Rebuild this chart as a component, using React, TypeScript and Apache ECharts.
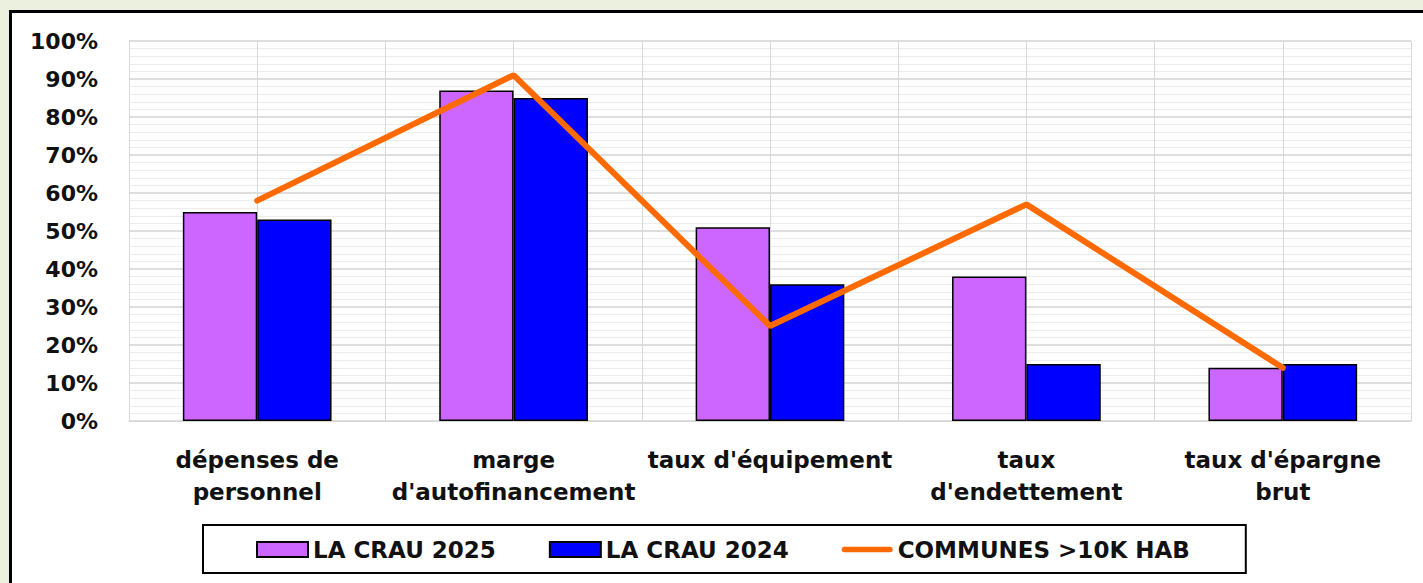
import React, { useEffect, useRef } from "react";
import * as echarts from "echarts";

const categories = [
  "dépenses de\npersonnel",
  "marge\nd'autofinancement",
  "taux d'équipement",
  "taux\nd'endettement",
  "taux d'épargne\nbrut",
];
const seriesNames = ["LA CRAU 2025", "LA CRAU 2024", "COMMUNES >10K HAB"];
const crau2025 = [55, 87, 51, 38, 14];
const crau2024 = [53, 85, 36, 15, 15];
const communes = [58, 91, 25, 57, 14];

const FONT = "'DejaVu Sans', sans-serif";

export default function App() {
  const ref = useRef<HTMLDivElement>(null);
  useEffect(() => {
    if (!ref.current) return;
    const chart = echarts.init(ref.current, null, { renderer: "svg" });
    const halfCats = categories.flatMap((c, i) => [`a${i}`, `b${i}`]);
    chart.setOption({
      animation: false,
      textStyle: { fontFamily: FONT },
      grid: { left: 129, right: 12, top: 41, bottom: 162, containLabel: false },
      xAxis: [
        {
          type: "category",
          data: categories,
          axisLine: { show: true, lineStyle: { color: "#d6d6d6", width: 1 } },
          axisTick: { show: false },
          splitLine: { show: false },
          axisLabel: {
            interval: 0,
            margin: 23,
            fontSize: 23,
            fontWeight: "bold",
            fontFamily: FONT,
            color: "#111",
            lineHeight: 32,
          },
        },
        {
          type: "category",
          data: halfCats,
          position: "bottom",
          axisLine: { show: false },
          axisTick: { show: false },
          axisLabel: { show: false },
          splitLine: { show: true, interval: 0, lineStyle: { color: "#d9d9d9", width: 1 } },
        },
      ],
      yAxis: {
        type: "value",
        min: 0,
        max: 100,
        interval: 10,
        axisLine: { show: false },
        axisTick: { show: false },
        axisLabel: {
          formatter: "{value}%",
          fontSize: 22,
          fontWeight: "bold",
          fontFamily: FONT,
          color: "#111",
          margin: 31,
        },
        splitLine: { show: true, lineStyle: { color: "#d3d3d3", width: 1.5 } },
        minorTick: { show: false, splitNumber: 5 },
        minorSplitLine: { show: true, lineStyle: { color: "#ececec", width: 1 } },
      },
      legend: {
        left: 203,
        top: 525,
        padding: [13, 56, 12, 53],
        borderColor: "#000",
        borderWidth: 2,
        itemWidth: 51,
        itemHeight: 15,
        itemGap: 53,
        textStyle: { fontSize: 23, fontWeight: "bold", fontFamily: FONT, color: "#111" },
        data: [
          { name: seriesNames[0], icon: "rect" },
          { name: seriesNames[1], icon: "rect" },
          {
            name: seriesNames[2],
            icon: "path://M3,0 L54,0 A3,3 0 0 1 54,6 L3,6 A3,3 0 0 1 3,0 Z",
            itemStyle: { color: "#FF6A00", borderWidth: 0 },
          },
        ],
      },
      series: [
        {
          name: seriesNames[0],
          type: "bar",
          data: crau2025,
          barGap: "0%",
          barCategoryGap: "42%",
          itemStyle: { color: "#CC66FF", borderColor: "#000", borderWidth: 1.5 },
        },
        {
          name: seriesNames[1],
          type: "bar",
          data: crau2024,
          barGap: "0%",
          barCategoryGap: "42%",
          itemStyle: { color: "#0000FF", borderColor: "#000", borderWidth: 1.5 },
        },
        {
          name: seriesNames[2],
          type: "line",
          data: communes,
          showSymbol: false,
          symbol: "none",
          z: 5,
          lineStyle: { color: "#FF6A00", width: 6, cap: "round" },
          itemStyle: { color: "#FF6A00" },
        },
      ],
    });
    return () => chart.dispose();
  }, []);

  return (
    <div
      style={{
        position: "fixed",
        left: 0,
        top: 0,
        width: 1423,
        height: 583,
        background: "#EBF1DE",
        overflow: "hidden",
      }}
    >
      <div
        style={{
          position: "absolute",
          left: 9,
          top: 10,
          width: 1500,
          height: 700,
          background: "#fff",
          border: "3px solid #000",
        }}
      />
      <div ref={ref} style={{ position: "absolute", left: 0, top: 0, width: 1423, height: 583 }} />
    </div>
  );
}
